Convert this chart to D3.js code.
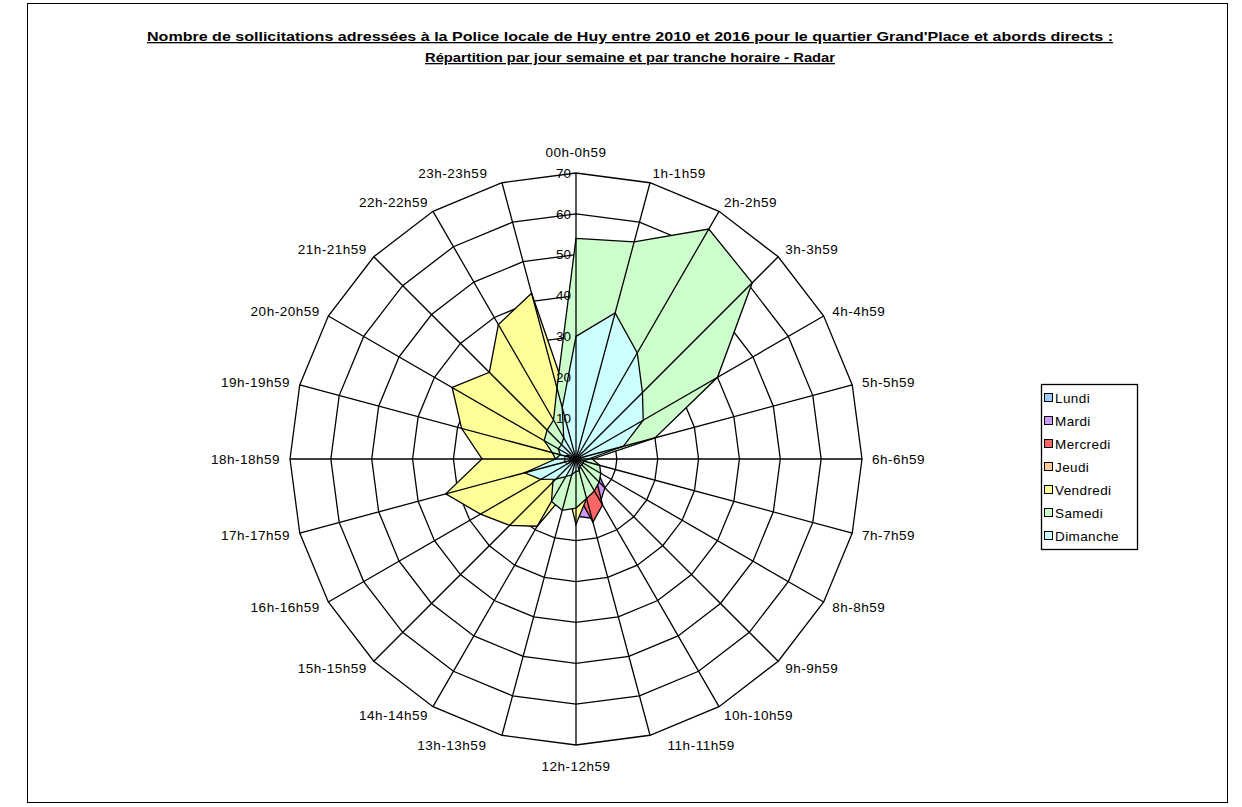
<!DOCTYPE html>
<html>
<head>
<meta charset="utf-8">
<script src="https://cdn.jsdelivr.net/npm/d3@7/dist/d3.min.js"></script>
<style>
  html, body { margin: 0; padding: 0; background: #fff; }
  svg { display: block; font-family: "Liberation Sans", Arial, sans-serif; }
</style>
</head>
<body>
<svg id="chart" width="1242" height="807"></svg>
<script>
// Time slots (one spoke each), clockwise from the top
const hours = ["00h-0h59", "1h-1h59", "2h-2h59", "3h-3h59", "4h-4h59", "5h-5h59",
  "6h-6h59", "7h-7h59", "8h-8h59", "9h-9h59", "10h-10h59", "11h-11h59",
  "12h-12h59", "13h-13h59", "14h-14h59", "15h-15h59", "16h-16h59", "17h-17h59",
  "18h-18h59", "19h-19h59", "20h-20h59", "21h-21h59", "22h-22h59", "23h-23h59"];

const days = ["Lundi", "Mardi", "Mercredi", "Jeudi", "Vendredi", "Samedi", "Dimanche"];
const dayColors = ["#99ccff", "#cc99ff", "#ff6666", "#ffcc99", "#ffff99", "#ccffcc", "#ccffff"];

// Number of requests per day and per hour slot
const lundi    = [8, 6, 5, 3, 2, 1, 1, 2, 3, 4, 5, 6, 7, 6, 5, 4, 4, 4, 3, 3, 3, 4, 4, 6];
const mardi    = [6, 4, 3, 2, 1, 1, 2, 3, 6, 10, 12, 15, 14, 7, 5, 4, 3, 3, 3, 2, 3, 3, 4, 5];
const mercredi = [7, 5, 4, 2, 1, 1, 2, 3, 5, 7, 13, 16, 8, 6, 5, 4, 3, 3, 3, 3, 3, 4, 5, 6];
const jeudi    = [9, 7, 6, 4, 2, 1, 1, 2, 4, 5, 6, 7, 8, 7, 6, 5, 4, 4, 4, 4, 5, 6, 7, 8];
const vendredi = [9, 15, 12, 8, 5, 3, 2, 3, 4, 4, 5, 10, 16, 8, 19, 23, 27, 33, 23, 29, 35, 30, 38, 42];
const samedi   = [54, 55, 65, 61, 40, 20, 4, 6, 7, 8, 9, 10, 12, 13, 12, 8, 6, 4, 5, 6, 9, 10, 11, 18];
const dimanche = [30, 37, 30, 23, 19, 12, 3, 2, 2, 2, 2, 3, 3, 4, 5, 7, 10, 13, 5, 4, 5, 5, 6, 13];

const seriesValues = [lundi, mardi, mercredi, jeudi, vendredi, samedi, dimanche];
const ticks = [0, 10, 20, 30, 40, 50, 60, 70];

const titleLines = [
  "Nombre de sollicitations adressées à la Police locale de Huy entre 2010 et 2016 pour le quartier Grand'Place et abords directs :",
  "Répartition par jour semaine et par tranche horaire - Radar"
];

const svg = d3.select("#chart");
const cx = 576, cy = 459, R = 286;
const LW = 1.3;

// outer frame
svg.append("rect")
  .attr("x", 27.5).attr("y", 3.5).attr("width", 1200).attr("height", 799)
  .attr("fill", "#fff").attr("stroke", "#000").attr("stroke-width", 1);

// title
const titleWidths = [966, 410];
titleLines.forEach((t, i) => {
  svg.append("text")
    .attr("x", 630).attr("y", 41 + i * 21)
    .attr("text-anchor", "middle")
    .attr("font-size", 13).attr("font-weight", "bold")
    .attr("text-decoration", "underline")
    .attr("textLength", titleWidths[i])
    .attr("lengthAdjust", "spacingAndGlyphs")
    .text(t);
});

const r = d3.scaleLinear().domain([0, 70]).range([0, R]);
const angle = d3.scaleLinear().domain([0, hours.length]).range([0, 2 * Math.PI]);

const g = svg.append("g").attr("transform", `translate(${cx},${cy})`);

// ring gridlines
const ringLine = d3.lineRadial()
  .angle((d, i) => angle(i))
  .radius(d => r(d))
  .curve(d3.curveLinearClosed);

g.append("g").selectAll("path")
  .data(ticks.slice(1))
  .join("path")
  .attr("d", v => ringLine(hours.map(() => v)))
  .attr("fill", "none")
  .attr("stroke", "#000")
  .attr("stroke-width", LW);

// filled series, first day at the bottom
g.append("g").selectAll("path")
  .data(seriesValues)
  .join("path")
  .attr("d", d => ringLine(d))
  .attr("fill", (d, i) => dayColors[i])
  .attr("stroke", "#000")
  .attr("stroke-width", LW)
  .attr("stroke-linejoin", "miter");

// spokes
g.append("g").selectAll("line")
  .data(hours)
  .join("line")
  .attr("x1", 0).attr("y1", 0)
  .attr("x2", (d, i) => r(70) * Math.sin(angle(i)))
  .attr("y2", (d, i) => -r(70) * Math.cos(angle(i)))
  .attr("stroke", "#000")
  .attr("stroke-width", LW);

// value ticks along the top spoke
g.append("g").selectAll("text")
  .data(ticks)
  .join("text")
  .attr("x", -5)
  .attr("y", v => -r(v))
  .attr("dy", "0.35em")
  .attr("text-anchor", "end")
  .attr("font-size", 13.5)
  .text(v => v);

// hour labels around the chart
const labelShift = { 11: 15, 13: -13, 23: -12 };
g.append("g").selectAll("text")
  .data(hours)
  .join("text")
  .each(function (d, i) {
    const a = angle(i);
    const s = Math.sin(a), c = Math.cos(a);
    const rr = R + 10;
    let x = rr * s + (labelShift[i] || 0), y = -rr * c;
    const anchor = Math.abs(s) < 0.01 ? "middle" : (s > 0 ? "start" : "end");
    if (Math.abs(s) < 0.01) y += (c > 0 ? -11 : 11);
    d3.select(this)
      .attr("x", x).attr("y", y)
      .attr("dy", "0.35em")
      .attr("text-anchor", anchor)
      .attr("font-size", 13.5)
      .attr("letter-spacing", 0.5)
      .text(d);
  });

// legend
const lg = svg.append("g").attr("transform", "translate(1041,384)");
lg.append("rect")
  .attr("x", 0.5).attr("y", 0.5).attr("width", 96).attr("height", 165)
  .attr("fill", "#fff").attr("stroke", "#000").attr("stroke-width", 1.3);
days.forEach((d, i) => {
  const y = 14 + i * 23;
  lg.append("rect")
    .attr("x", 3.5).attr("y", y - 4.5).attr("width", 8).attr("height", 8)
    .attr("fill", dayColors[i]).attr("stroke", "#000").attr("stroke-width", 1);
  lg.append("text")
    .attr("x", 14).attr("y", y).attr("dy", "0.35em")
    .attr("font-size", 13.5)
    .attr("letter-spacing", 0.4)
    .text(d);
});
</script>
</body>
</html>
